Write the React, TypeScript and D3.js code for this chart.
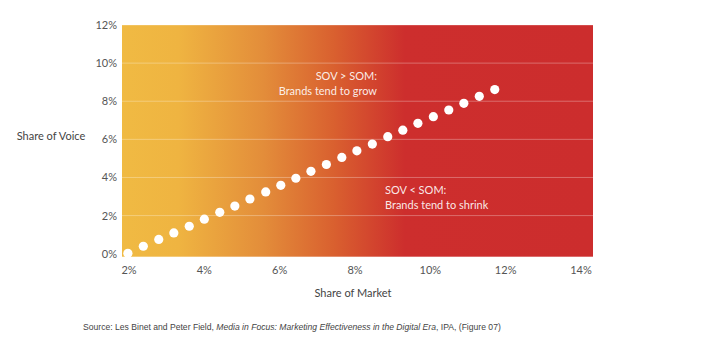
import React from 'react';
import * as d3 from 'd3';

const width = 708;
const height = 351;

// share of market (x) and share of voice (y), in percent
const somValues = [1.97, 2.38, 2.79, 3.19, 3.6, 4.0, 4.41, 4.81, 5.21, 5.63, 6.03, 6.43, 6.83, 7.24, 7.65, 8.05, 8.46, 8.87, 9.27, 9.67, 10.08, 10.49, 10.89, 11.3, 11.71];
const sovValues = [0.02, 0.39, 0.75, 1.09, 1.44, 1.81, 2.17, 2.5, 2.87, 3.24, 3.59, 3.96, 4.32, 4.68, 5.05, 5.4, 5.75, 6.14, 6.48, 6.84, 7.19, 7.54, 7.89, 8.26, 8.61];
const xTicks = [2, 4, 6, 8, 10, 12, 14];
const yTicks = [0, 2, 4, 6, 8, 10, 12];

const font = 'Lato, "Open Sans", sans-serif';

export default function App() {
  const xScale = d3.scaleLinear().domain([2, 14]).range([129, 581]);
  const yScale = d3.scaleLinear().domain([0, 12]).range([253.7, 25]);

  const left = 122;
  const right = 593;
  const top = yScale(12);
  const bottom = yScale(0) + 3;

  return (
    <svg width={width} height={height} style={{ position: 'absolute', left: 0, top: 0 }}>
      <defs>
        <linearGradient id="bg" x1="0" x2="1" y1="0" y2="0">
          <stop offset="0" stopColor="#f0ba43" />
          <stop offset="0.12" stopColor="#efb441" />
          <stop offset="0.3" stopColor="#e38d3a" />
          <stop offset="0.45" stopColor="#d9602f" />
          <stop offset="0.6" stopColor="#cd2e2d" />
          <stop offset="1" stopColor="#cc2d2d" />
        </linearGradient>
      </defs>
      <rect x={left} y={top} width={right - left} height={bottom - top} fill="url(#bg)" />
      {yTicks.map(t => (
        <g key={t}>
          {t > 0 && (
            <line x1={left} x2={right} y1={yScale(t)} y2={yScale(t)} stroke="#fff" strokeOpacity={0.3} strokeWidth={1} />
          )}
          <text x={117} y={yScale(t) + 4} textAnchor="end" fontFamily={font} fontSize={11} fill="#555">
            {t}%
          </text>
        </g>
      ))}
      {xTicks.map(t => (
        <text key={t} x={xScale(t)} y={274} textAnchor="middle" fontFamily={font} fontSize={11} fill="#555">
          {t}%
        </text>
      ))}
      {somValues.map((d, i) => (
        <circle key={i} cx={xScale(d)} cy={yScale(sovValues[i])} r={4.6} fill="#fff" />
      ))}
      <text x={377} y={80} textAnchor="end" fontFamily={font} fontSize={11} fill="#fff" fillOpacity={0.9}>
        SOV &gt; SOM:
      </text>
      <text x={377} y={95} textAnchor="end" fontFamily={font} fontSize={11} fill="#fff" fillOpacity={0.9}>
        Brands tend to grow
      </text>
      <text x={385} y={194} fontFamily={font} fontSize={11} fill="#fff" fillOpacity={0.9}>
        SOV &lt; SOM:
      </text>
      <text x={385} y={209} fontFamily={font} fontSize={11} fill="#fff" fillOpacity={0.9}>
        Brands tend to shrink
      </text>
      <text x={51} y={140} textAnchor="middle" fontFamily={font} fontSize={11} fill="#444">
        Share of Voice
      </text>
      <text x={353} y={297} textAnchor="middle" fontFamily={font} fontSize={11} fill="#444">
        Share of Market
      </text>
      <text x={83} y={330} fontFamily='"Liberation Sans", Arial, sans-serif' fontSize={8.6} fill="#444">
        Source: Les Binet and Peter Field, <tspan fontStyle="italic">Media in Focus: Marketing Effectiveness in the Digital Era</tspan>, IPA, (Figure 07)
      </text>
    </svg>
  );
}
